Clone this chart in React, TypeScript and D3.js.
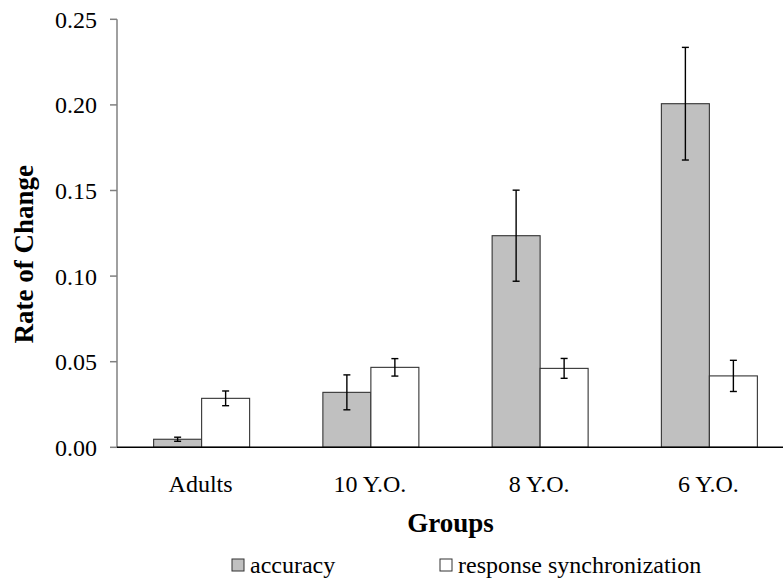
import React from "react";
import * as d3 from "d3";

const categories = ["Adults", "10 Y.O.", "8 Y.O.", "6 Y.O."];
const seriesNames = ["accuracy", "response synchronization"];
const accuracy = [0.0047, 0.0321, 0.1236, 0.2007];
const accuracyErr = [0.0012, 0.0102, 0.0266, 0.0329];
const synchronization = [0.0286, 0.0467, 0.0461, 0.0417];
const synchronizationErr = [0.0043, 0.0051, 0.0058, 0.0091];
const yTicks = [0, 0.05, 0.1, 0.15, 0.2, 0.25];

const W = 783;
const H = 584;
const left = 117;
const right = 794;
const top = 19.3;
const bottom = 447.3;

export default function App() {
  const x = d3.scaleBand<string>().domain(categories).range([left, right]).paddingInner(0.43).paddingOuter(0.215);
  const y = d3.scaleLinear().domain([0, 0.25]).range([bottom, top]);
  const bw = 48;
  const series = [
    { name: seriesNames[0], vals: accuracy, errs: accuracyErr, fill: "#c0c0c0" },
    { name: seriesNames[1], vals: synchronization, errs: synchronizationErr, fill: "#ffffff" },
  ];
  const center = (c: string) => (x(c) as number) + x.bandwidth() / 2;

  return (
    <svg width={W} height={H} style={{ position: "absolute", left: 0, top: 0 }}>
      <style>{`.serif { font-family: "Liberation Serif", Times, serif; fill: #000; } .b { font-weight: bold; }`}</style>
      <rect x={0} y={0} width={W} height={H} fill="#fff" />
      {series.map((s, si) =>
        categories.map((c, i) => {
          const x0 = center(c) - bw + si * bw;
          const yt = y(s.vals[i]);
          return (
            <rect key={s.name + c} x={x0} y={yt} width={bw} height={bottom - yt}
              fill={s.fill} stroke="#333" strokeWidth={1.1} />
          );
        })
      )}
      {series.map((s, si) =>
        categories.map((c, i) => {
          const cx = center(c) - bw / 2 + si * bw;
          const y1 = y(s.vals[i] + s.errs[i]);
          const y2 = y(s.vals[i] - s.errs[i]);
          return (
            <g key={"e" + s.name + c} stroke="#000" strokeWidth={1.4}>
              <line x1={cx} x2={cx} y1={y1} y2={y2} />
              <line x1={cx - 3.5} x2={cx + 3.5} y1={y1} y2={y1} />
              <line x1={cx - 3.5} x2={cx + 3.5} y1={y2} y2={y2} />
            </g>
          );
        })
      )}
      <line x1={left} x2={left} y1={top} y2={bottom} stroke="#808080" strokeWidth={1.5} />
      {yTicks.map((t) => (
        <g key={t}>
          <line x1={left - 7} x2={left} y1={y(t)} y2={y(t)} stroke="#808080" strokeWidth={1.5} />
          <text className="serif" x={97} y={y(t) + 8.5} textAnchor="end" fontSize={24}>
            {d3.format(".2f")(t)}
          </text>
        </g>
      ))}
      <line x1={left} x2={right} y1={bottom} y2={bottom} stroke="#000" strokeWidth={1.5} />
      {categories.map((c) => (
        <text className="serif" key={c} x={center(c) - 1} y={491.5} textAnchor="middle" fontSize={24}>
          {c}
        </text>
      ))}
      <text className="serif b" x={(left + right) / 2 - 5} y={531.5} textAnchor="middle" fontSize={27}>
        Groups
      </text>
      <text className="serif b" transform={`translate(33, ${(top + bottom) / 2 + 21}) rotate(-90)`} textAnchor="middle" fontSize={27}>
        Rate of Change
      </text>
      {series.map((s, si) => {
        const lx = si === 0 ? 232 : 440;
        return (
          <g key={"l" + s.name}>
            <rect x={lx} y={559} width={12} height={12} fill={s.fill} stroke="#333" strokeWidth={1} />
            <text className="serif" x={lx + 18} y={573} fontSize={24}>{s.name}</text>
          </g>
        );
      })}
    </svg>
  );
}
